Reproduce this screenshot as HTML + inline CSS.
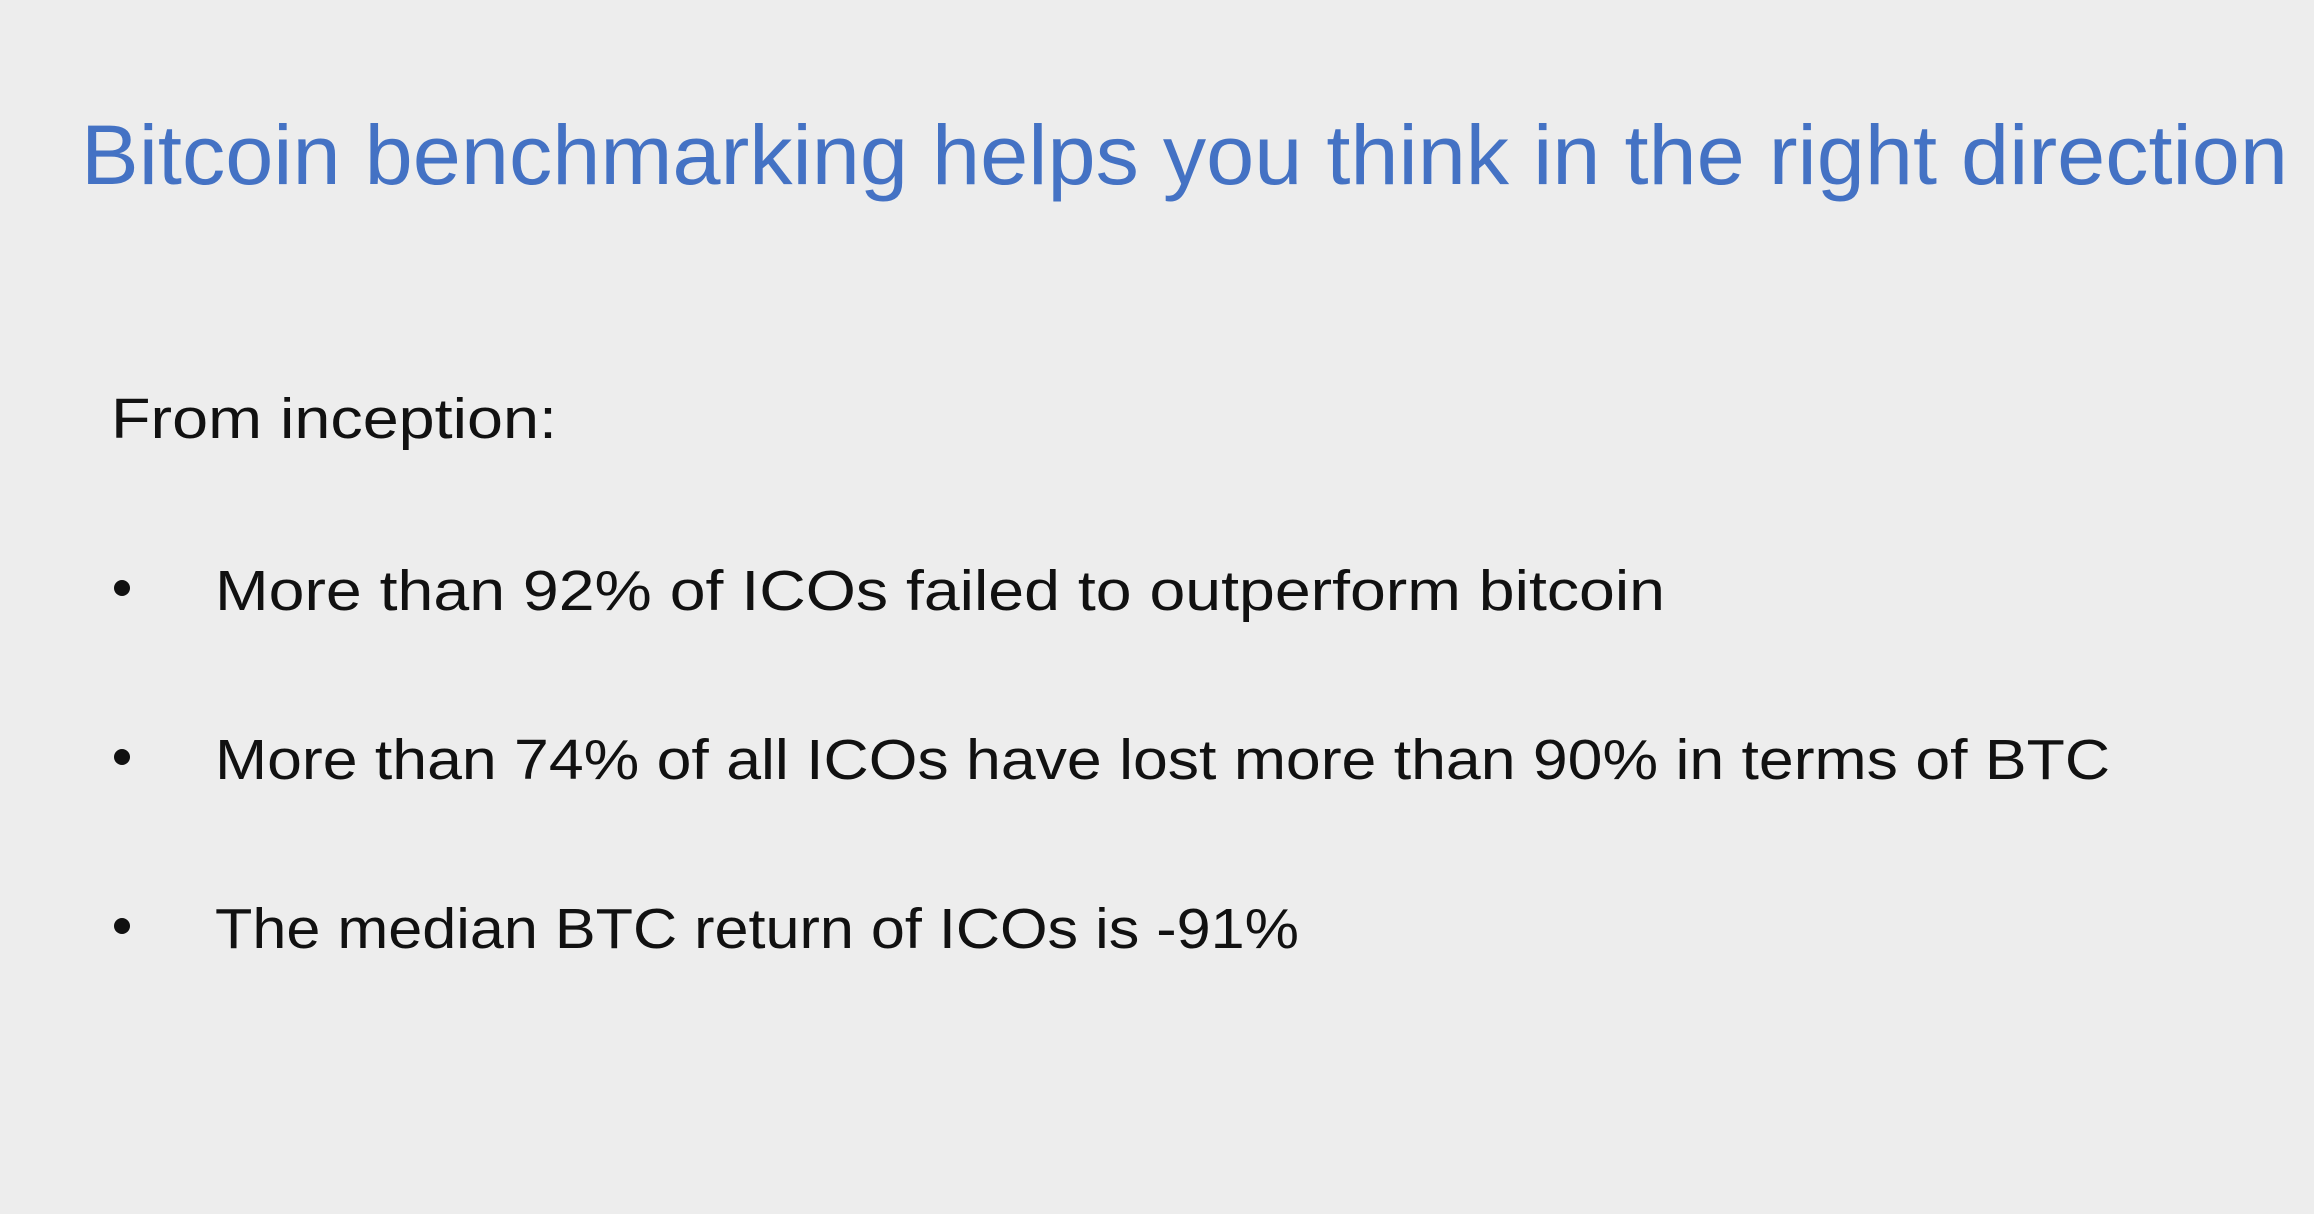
<!DOCTYPE html>
<html><head><meta charset="utf-8"><style>
html,body{margin:0;padding:0;background:#ededed;}
svg{display:block;}
text{font-family:"Liberation Sans",sans-serif;}
</style></head><body>
<svg width="2314" height="1214" viewBox="0 0 2314 1214">
<rect width="2314" height="1214" fill="#ededed"/>
<text x="81" y="184" font-size="84" fill="#4472c4" textLength="2207" lengthAdjust="spacingAndGlyphs">Bitcoin benchmarking helps you think in the right direction</text>
<text x="111" y="438" font-size="57" fill="#111" textLength="446" lengthAdjust="spacingAndGlyphs">From inception:</text>
<g>
<circle cx="122" cy="588" r="8" fill="#111"/>
<text x="215" y="610" font-size="57" fill="#111" textLength="1450" lengthAdjust="spacingAndGlyphs">More than 92% of ICOs failed to outperform bitcoin</text>
</g>
<g>
<circle cx="122" cy="757" r="8" fill="#111"/>
<text x="215" y="779" font-size="57" fill="#111" textLength="1895" lengthAdjust="spacingAndGlyphs">More than 74% of all ICOs have lost more than 90% in terms of BTC</text>
</g>
<g>
<circle cx="122" cy="926" r="8" fill="#111"/>
<text x="215" y="948" font-size="57" fill="#111" textLength="1084" lengthAdjust="spacingAndGlyphs">The median BTC return of ICOs is -91%</text>
</g>
</svg>
</body></html>
